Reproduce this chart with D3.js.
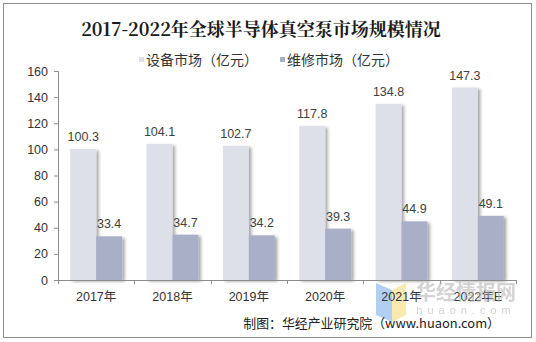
<!DOCTYPE html>
<html><head><meta charset="utf-8">
<script src="https://cdn.jsdelivr.net/npm/d3@7"></script>
<style>body{margin:0;background:#fff}svg{display:block}</style>
</head><body>
<svg id="c" width="536" height="342"></svg>
<script>
const categories = ["2017年","2018年","2019年","2020年","2021年","2022年E"];
const equipment = [100.3,104.1,102.7,117.8,134.8,147.3];
const repair = [33.4,34.7,34.2,39.3,44.9,49.1];
const seriesNames = ["设备市场（亿元）","维修市场（亿元）"];
const yTicks = [0,20,40,60,80,100,120,140,160];
const title = "2017-2022年全球半导体真空泵市场规模情况";
const source = "制图：华经产业研究院（www.huaon.com）";
const colors = ["#dde0e9","#a9afc7"];

const svg = d3.select("#c");
const defs = svg.append("defs");
const f = defs.append("filter").attr("id","sh").attr("x","-20%").attr("y","-5%").attr("width","160%").attr("height","120%");
f.append("feDropShadow").attr("dx",2.5).attr("dy",1.5).attr("stdDeviation",1.6).attr("flood-color","#000").attr("flood-opacity",0.35);

svg.append("rect").attr("x",3.5).attr("y",3.5).attr("width",528).attr("height",334)
  .attr("fill","#fff").attr("stroke","#8c8c8c").attr("stroke-width",1);

svg.append("text").attr("x",261).attr("y",36).attr("text-anchor","middle")
  .attr("font-family","'Noto Serif CJK SC','Noto Sans CJK SC',serif").attr("font-weight","bold")
  .attr("font-size",18).attr("fill","#1a1a1a").text(title);

const L = 58, R = 516, T = 71, B = 280;
const x = d3.scaleBand().domain(categories).range([L,R]).paddingInner(0.32).paddingOuter(0.16);
const y = d3.scaleLinear().domain([0,160]).range([B,T]);
const x1 = d3.scaleBand().domain([0,1]).range([0,x.bandwidth()]);

// watermark (behind)
const wm = svg.append("g");
wm.append("path").attr("d","M376,283 L392,290 L392,322 L376,315 Z").attr("fill","#9ec3ee").attr("opacity",0.8);
wm.append("path").attr("d","M392,290 L406,283 L406,315 L392,322 Z").attr("fill","#f7e49a").attr("opacity",0.8);

const g = svg.append("g");
categories.forEach((c,i)=>{
  [equipment[i],repair[i]].forEach((v,s)=>{
    g.append("rect").attr("x",x(c)+x1(s)).attr("y",y(v)).attr("width",x1.bandwidth()).attr("height",B-y(v))
      .attr("fill",colors[s]).attr("filter","url(#sh)");
    g.append("text").attr("x",x(c)+x1(s)+x1.bandwidth()/2).attr("y",y(v)-8).attr("text-anchor","middle")
      .attr("font-family","'Liberation Sans',Arial,sans-serif").attr("font-size",12.5).attr("fill","#404040").text(v.toFixed(1));
  });
});

// y axis
const ya = svg.append("g").attr("transform",`translate(${L},0)`).call(d3.axisLeft(y).tickValues(yTicks).tickSize(4).tickPadding(6));
ya.select(".domain").attr("stroke","#8c8c8c").attr("d",`M-4,${T}.5H0.5V${B}.5H-4`);
ya.selectAll(".tick line").attr("stroke","#8c8c8c");
ya.selectAll("text").attr("font-family","'Liberation Sans',Arial,sans-serif").attr("font-size",12.5).attr("fill","#333");

// x axis
const xa = svg.append("g").attr("transform",`translate(0,${B})`);
xa.append("line").attr("x1",L).attr("x2",R).attr("y1",0.5).attr("y2",0.5).attr("stroke","#8c8c8c");
const bounds = categories.map(c=>x(c)-x.step()*x.paddingInner()/2).concat([R]);
bounds.forEach(b=>xa.append("line").attr("x1",Math.round(b)+0.5).attr("x2",Math.round(b)+0.5).attr("y1",0).attr("y2",4).attr("stroke","#8c8c8c"));
categories.forEach(c=>xa.append("text").attr("x",x(c)+x.bandwidth()/2).attr("y",21).attr("text-anchor","middle")
  .attr("font-family","'Liberation Sans','Noto Sans CJK SC',sans-serif").attr("font-size",12.5).attr("fill","#333").text(c));

// watermark text
svg.append("text").attr("x",466).attr("y",300).attr("text-anchor","middle").attr("font-family","'Noto Sans CJK SC',sans-serif")
  .attr("font-weight","bold").attr("font-size",20).attr("fill","#b0b0b0").attr("opacity",0.55).text("华经情报网");
svg.append("text").attr("x",466).attr("y",314).attr("text-anchor","middle").attr("font-family","'Liberation Sans',sans-serif")
  .attr("font-size",11).attr("letter-spacing",5).attr("fill","#c8c8c8").attr("opacity",0.8).text("huaon.com");

// legend
const lg = svg.append("g").attr("font-family","'Noto Sans CJK SC',sans-serif").attr("font-size",14).attr("fill","#333");
const lx = [139,280];
seriesNames.forEach((n,i)=>{
  lg.append("rect").attr("x",lx[i]).attr("y",57).attr("width",5).attr("height",5).attr("fill",colors[i]);
  lg.append("text").attr("x",lx[i]+7).attr("y",65).text(n);
});

// source
svg.append("text").attr("x",500).attr("y",328).attr("text-anchor","end").attr("font-family","'Noto Sans CJK SC',sans-serif")
  .attr("font-size",12.9).attr("fill","#222").text(source);
</script>
</body></html>
